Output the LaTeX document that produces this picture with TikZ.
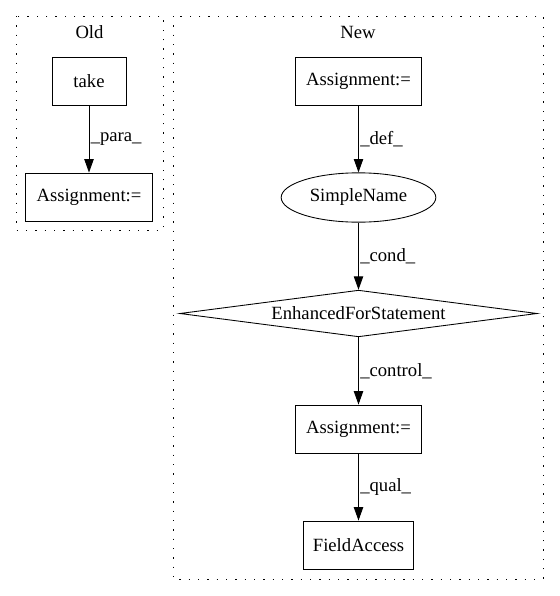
\documentclass[tikz,border=0pt]{standalone}
\usepackage{fontspec}
\setmainfont{Liberation Serif}
\usetikzlibrary{shapes.geometric,arrows.meta}
\begin{document}
\begin{tikzpicture}[x=0.75pt,y=-0.75pt,
  font=\fontsize{14pt}{16pt}\selectfont,
  every node/.style={inner sep=0pt},
  box/.style={draw,line width=0.65pt,rectangle,minimum height=36pt},
  ell/.style={draw,line width=0.65pt,ellipse,minimum width=116pt,minimum height=37pt},
  dia/.style={draw,line width=0.65pt,diamond,aspect=7.6,minimum width=268pt,minimum height=35pt},
  cluster/.style={line width=0.75pt,dash pattern=on 1.1pt off 5.9pt},
  edge/.style={line width=0.65pt,-{Triangle[length=10pt,width=7pt]}},
  elabel/.style={anchor=west,inner sep=1pt}]
\useasboundingbox (0,0) rectangle (560,596);
% clusters
\draw[cluster] (16,16) rectangle (163,230);
\draw[cluster] (173,16) rectangle (543,579);
\node (oldlbl) at (89.5,32) {Old};
\node (newlbl) at (358,32) {New};
% old nodes
\node[box,minimum width=55.5pt] (take) at (89,81) {take};
\node[box,minimum width=95pt] (oassign) at (89,197) {Assignment:=};
% new nodes
\node[box,minimum width=95pt] (nassign1) at (358.5,81) {Assignment:=};
\node[ell] (simple) at (358.5,197.5) {SimpleName};
\node[dia] (efs) at (358.5,313.5) {EnhancedForStatement};
\node[box,minimum width=95pt] (nassign2) at (358.5,429) {Assignment:=};
\node[box,minimum width=83pt] (field) at (358.5,545) {FieldAccess};
% edges
\draw[edge] (take) -- node[elabel] {\_para\_} (oassign);
\draw[edge] (nassign1) -- node[elabel] {\_def\_} (simple);
\draw[edge] (simple) -- node[elabel] {\_cond\_} (efs);
\draw[edge] (efs) -- node[elabel] {\_control\_} (nassign2);
\draw[edge] (nassign2) -- node[elabel] {\_qual\_} (field);
\end{tikzpicture}
\end{document}
